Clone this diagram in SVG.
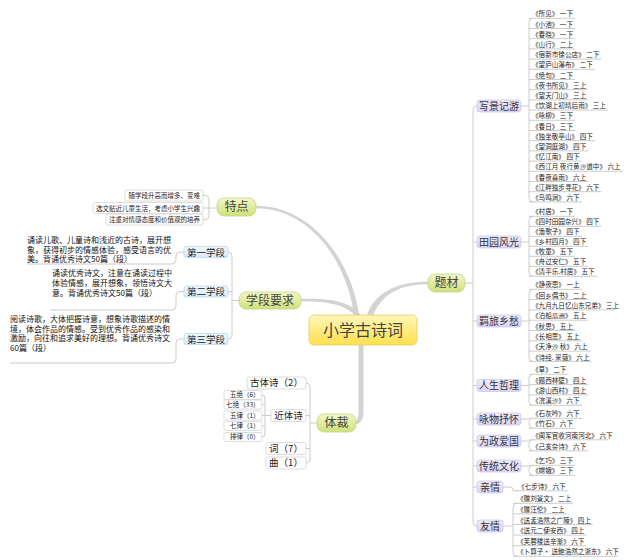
<svg xmlns="http://www.w3.org/2000/svg" width="626" height="560" viewBox="0 0 626 560">
<style>
text{font-family:"Noto Sans CJK SC","Noto Sans",sans-serif}
.leaf{font-size:6.6px;fill:#222}
.para{font-size:8px;fill:#111}
.sub{font-size:10px;fill:#333;text-anchor:middle}
.main{font-size:12px;fill:#444;text-anchor:middle}
.small{font-size:6.5px;fill:#222}
.c{stroke:#c6c6c6;stroke-width:0.9;fill:none}
.trunk{fill:#d3d3d3}
.bp{fill:url(#gP);stroke:#cdc5ec;stroke-width:0.8}
.bb{fill:url(#gB);stroke:#b9d9f0;stroke-width:0.8}
.bg{fill:url(#gG);stroke:#c3d585;stroke-width:0.8}
.bw{fill:#fff;stroke:#d4d4d4;stroke-width:0.8}
</style>
<defs>
<linearGradient id="gY" x1="0" y1="0" x2="0" y2="1"><stop offset="0" stop-color="#fff7b8"/><stop offset="1" stop-color="#ffe04c"/></linearGradient>
<linearGradient id="gG" x1="0" y1="0" x2="0" y2="1"><stop offset="0" stop-color="#f2f8c6"/><stop offset="1" stop-color="#cfe07a"/></linearGradient>
<linearGradient id="gP" x1="0" y1="0" x2="0" y2="1"><stop offset="0" stop-color="#f0ecfc"/><stop offset="1" stop-color="#dcd4f4"/></linearGradient>
<linearGradient id="gB" x1="0" y1="0" x2="0" y2="1"><stop offset="0" stop-color="#f0f8fe"/><stop offset="1" stop-color="#d6ebfa"/></linearGradient>
</defs>
<rect width="626" height="560" fill="#fff"/>

<g id="connectors">
<path class="trunk" d="M359.5,318 C352.5,260 311,205.8 256,205.8 L256,208.2 C309,208.2 347.5,260 354.5,318 Z"/>
<path class="trunk" d="M301,298.8 C331,297.8 352,301 363,318 L357,318 C348,305 329,301.2 301,301.2 Z"/>
<path class="trunk" d="M366,318 C374,291 399,281.8 428,281.8 L428,284.2 C401,284.2 381,293 372,318 Z"/>
<path class="trunk" d="M358.5,343 V412 Q358.5,421.8 354,421.8 L354,424.2 Q363.5,424.2 363.5,412 V343 Z"/>
<path class="c" d="M477,106 Q473,106 473,110 V522 Q473,526 477,526 M465,283 H473 M473,242 H477 M473,321 H477 M473,385.5 H477 M473,419 H477 M473,441 H477 M473,466 H477 M473,487 H477"/>
<path class="c" d="M521,106 H529 M533,18.3 Q529,18.3 529,22.3 V197.9 Q529,201.9 533,201.9 M529,18.3 H575 M529,28.5 H575 M529,38.7 H575 M529,48.9 H575 M529,59.1 H601.5 M529,69.3 H595 M529,79.5 H575 M529,89.7 H588 M529,99.9 H588 M529,110.1 H608 M529,120.3 H575 M529,130.5 H575 M529,140.7 H595 M529,150.9 H588 M529,161.1 H582 M529,171.3 H623 M529,181.5 H588 M529,191.7 H601.5 M529,201.9 H582"/>
<path class="c" d="M521,242 H529 M533,216.3 Q529,216.3 529,220.3 V272.3 Q529,276.3 533,276.3 M529,216.3 H575 M529,226.3 H601.5 M529,236.3 H582 M529,246.3 H588 M529,256.3 H575 M529,266.3 H588 M529,276.3 H597"/>
<path class="c" d="M521,321 H529 M533,289.3 Q529,289.3 529,293.3 V357.4 Q529,361.4 533,361.4 M529,289.3 H582 M529,299.6 H588 M529,309.9 H615 M529,320.2 H588 M529,330.5 H575 M529,340.8 H582 M529,351.1 H591 M529,361.4 H592"/>
<path class="c" d="M521,385.5 H529 M533,374.3 Q529,374.3 529,378.3 V401.3 Q529,405.3 533,405.3 M529,374.3 H568.5 M529,384.6 H588 M529,394.9 H588 M529,405.3 H582"/>
<path class="c" d="M521,419 H529 M533,418.3 Q529,418.3 529,422.3 V424.3 Q529,428.3 533,428.3 M529,418.3 H582 M529,428.3 H575"/>
<path class="c" d="M521,441 H529 M533,439.8 Q529,439.8 529,443.8 V446.8 Q529,450.8 533,450.8 M529,439.8 H608 M529,450.8 H588"/>
<path class="c" d="M521,466 H529 M533,465.3 Q529,465.3 529,469.3 V471.3 Q529,475.3 533,475.3 M529,465.3 H575 M529,475.3 H575"/>
<path class="c" d="M503,487 H510 Q513,487 513,490.8 H568"/>
<path class="c" d="M503,526 H513 M517,503.3 Q513,503.3 513,507.3 V552.3 Q513,556.3 517,556.3 M513,503.3 H573 M513,513.9 H567 M513,524.5 H593 M513,535.1 H586.5 M513,545.7 H586.5 M513,556.3 H618"/>
<path class="c" d="M203,195.5 H205 Q209,195.5 209,199.5 V215.5 Q209,219.5 205,219.5 H203 M203,208 H217"/>
<path class="c" d="M228,252 Q232,252 232,256 V335 Q232,339 228,339 M228,291.5 H232 M232,300.5 H239"/>
<path class="c" d="M184,252 H180 Q176,252 176,256 V260 Q176,264 172,264 H27 M184,291.5 H180 Q176,291.5 176,295.5 V306 Q176,310 172,310 H50 M184,339 H180 Q176,339 176,343 V359 Q176,363 172,363 H10"/>
<path class="c" d="M306,383 Q310,383 310,387 V459 Q310,463 306,463 M306,415.5 H310 M306,448.5 H310 M310,423 H317"/>
<path class="c" d="M262,395 Q265,395 265,398 V434 Q265,437 262,437 M262,404.5 H265 M262,415.5 H265 M262,426 H265 M265,415.5 H271"/>
</g>

<g id="n-root">
<rect x="309" y="315" width="108" height="30" rx="5" fill="url(#gY)" stroke="#e6cc6a" stroke-width="0.8"/>
<text x="363" y="336" font-size="16" fill="#444" text-anchor="middle">小学古诗词</text>
</g>

<g id="n-tedian">
<rect class="bg" x="217" y="198" width="39" height="18" rx="7"/>
<text class="main" x="236.5" y="211.2">特点</text>
</g>
<g id="n-xueduan">
<rect class="bg" x="239" y="292" width="62" height="17" rx="7"/>
<text class="main" x="270" y="304.7">学段要求</text>
</g>
<g id="n-ticai">
<rect class="bg" x="428" y="274" width="37" height="18" rx="7"/>
<text class="main" x="446.5" y="287.2">题材</text>
</g>
<g id="n-ticai2">
<rect class="bg" x="317" y="414" width="39" height="18" rx="7"/>
<text class="main" x="336.5" y="427.2">体裁</text>
</g>

<g id="n-tedian-items">
<rect class="bw" x="125" y="190" width="78" height="11" rx="2"/>
<text class="small" x="200" y="198" text-anchor="end">随学段升高而增多、变难</text>
<rect class="bw" x="93" y="202.5" width="110" height="11" rx="2"/>
<text class="small" x="200" y="210.5" text-anchor="end">选文贴近儿童生活，考虑小学生兴趣</text>
<rect class="bw" x="106" y="214" width="97" height="11" rx="2"/>
<text class="small" x="200" y="222" text-anchor="end">注重对情感态度和价值观的培养</text>
</g>

<g id="n-stage1">
<rect class="bb" x="184" y="246.5" width="44" height="11" rx="2"/>
<text x="206" y="255.5" font-size="9.5" fill="#222" text-anchor="middle">第一学段</text>
</g>
<g id="n-stage2">
<rect class="bb" x="184" y="286" width="44" height="11" rx="2"/>
<text x="206" y="295" font-size="9.5" fill="#222" text-anchor="middle">第二学段</text>
</g>
<g id="n-stage3">
<rect class="bb" x="184" y="333.5" width="44" height="11" rx="2"/>
<text x="206" y="342.5" font-size="9.5" fill="#222" text-anchor="middle">第三学段</text>
</g>

<g id="n-para1">
<text class="para"><tspan x="27" y="243">诵读儿歌、儿童诗和浅近的古诗，展开想</tspan><tspan x="27" y="252.5">象，获得初步的情感体验，感受语言的优</tspan><tspan x="27" y="262">美。背诵优秀诗文50篇（段）</tspan></text>
</g>
<g id="n-para2">
<text class="para"><tspan x="52" y="276">诵读优秀诗文，注意在诵读过程中</tspan><tspan x="52" y="286">体验情感，展开想象，领悟诗文大</tspan><tspan x="52" y="296">意。背诵优秀诗文50篇（段）</tspan></text>
</g>
<g id="n-para3">
<text class="para"><tspan x="10" y="322">阅读诗歌，大体把握诗意，想象诗歌描述的情</tspan><tspan x="10" y="331.5">境，体会作品的情感。受到优秀作品的感染和</tspan><tspan x="10" y="341">激励，向往和追求美好的理想。背诵优秀诗文</tspan><tspan x="10" y="350.5">60篇（段）</tspan></text>
</g>

<g id="n-guti">
<rect class="bw" x="247" y="377" width="59" height="12" rx="2"/>
<text x="276.5" y="386.4" font-size="9.5" fill="#222" text-anchor="middle">古体诗（2）</text>
</g>
<g id="n-jinti">
<rect class="bw" x="271" y="409.5" width="35" height="12" rx="2"/>
<text x="288.5" y="418.9" font-size="9.5" fill="#222" text-anchor="middle">近体诗</text>
</g>
<g id="n-ci">
<rect class="bw" x="266" y="442.5" width="40" height="12" rx="2"/>
<text x="286" y="451.9" font-size="9.5" fill="#222" text-anchor="middle">词（7）</text>
</g>
<g id="n-qu">
<rect class="bw" x="266" y="457" width="40" height="12" rx="2"/>
<text x="286" y="466.4" font-size="9.5" fill="#222" text-anchor="middle">曲（1）</text>
</g>
<g id="n-jinti-items">
<rect class="bw" x="224" y="390.5" width="38" height="9" rx="1.5"/>
<text class="small" x="259.5" y="397.3" text-anchor="end">五绝（6）</text>
<rect class="bw" x="224" y="400" width="38" height="9" rx="1.5"/>
<text class="small" x="259.5" y="406.8" text-anchor="end">七绝（33）</text>
<rect class="bw" x="224" y="411" width="38" height="9" rx="1.5"/>
<text class="small" x="259.5" y="417.8" text-anchor="end">五律（1）</text>
<rect class="bw" x="224" y="421.5" width="38" height="9" rx="1.5"/>
<text class="small" x="259.5" y="428.3" text-anchor="end">七律（1）</text>
<rect class="bw" x="224" y="432.5" width="38" height="9" rx="1.5"/>
<text class="small" x="259.5" y="439.3" text-anchor="end">排律（0）</text>
</g>

<g id="n-xiejing">
<rect class="bp" x="477" y="100" width="44" height="12" rx="3"/>
<text class="sub" x="499" y="109.5">写景记游</text>
</g>
<g id="n-tianyuan">
<rect class="bp" x="477" y="236" width="44" height="12" rx="3"/>
<text class="sub" x="499" y="245.5">田园风光</text>
</g>
<g id="n-jilv">
<rect class="bp" x="477" y="315" width="44" height="12" rx="3"/>
<text class="sub" x="499" y="324.5">羁旅乡愁</text>
</g>
<g id="n-rensheng">
<rect class="bp" x="477" y="379.5" width="44" height="12" rx="3"/>
<text class="sub" x="499" y="389">人生哲理</text>
</g>
<g id="n-yongwu">
<rect class="bp" x="477" y="413" width="44" height="12" rx="3"/>
<text class="sub" x="499" y="422.5">咏物抒怀</text>
</g>
<g id="n-weizheng">
<rect class="bp" x="477" y="435" width="44" height="12" rx="3"/>
<text class="sub" x="499" y="444.5">为政爱国</text>
</g>
<g id="n-chuantong">
<rect class="bp" x="477" y="460" width="44" height="12" rx="3"/>
<text class="sub" x="499" y="469.5">传统文化</text>
</g>
<g id="n-qinqing">
<rect class="bp" x="477" y="481" width="26" height="12" rx="3"/>
<text class="sub" x="490" y="490.5">亲情</text>
</g>
<g id="n-youqing">
<rect class="bp" x="477" y="520" width="26" height="12" rx="3"/>
<text class="sub" x="490" y="529.5">友情</text>
</g>

<g id="leaves-xiejing" class="leaf">
<text x="532" y="16.4">《所见》 一下</text>
<text x="532" y="26.6">《小池》 一下</text>
<text x="532" y="36.8">《春晓》 一下</text>
<text x="532" y="47">《山行》 二上</text>
<text x="532" y="57.2">《宿新市徐公店》 二下</text>
<text x="532" y="67.4">《望庐山瀑布》 二下</text>
<text x="532" y="77.6">《绝句》 二下</text>
<text x="532" y="87.8">《夜书所见》 三上</text>
<text x="532" y="98">《望天门山》 三上</text>
<text x="532" y="108.2">《饮湖上初晴后雨》 三上</text>
<text x="532" y="118.4">《咏柳》 三下</text>
<text x="532" y="128.6">《春日》 三下</text>
<text x="532" y="138.8">《独坐敬亭山》 四下</text>
<text x="532" y="149">《望洞庭湖》 四下</text>
<text x="532" y="159.2">《忆江南》 四下</text>
<text x="532" y="169.4">《西江月 夜行黄沙道中》 六上</text>
<text x="532" y="179.6">《春夜喜雨》 六上</text>
<text x="532" y="189.8">《江畔独步寻花》 六下</text>
<text x="532" y="200">《鸟鸣涧》 六下</text>
</g>
<g id="leaves-tianyuan" class="leaf">
<text x="532" y="214.4">《村居》 一下</text>
<text x="532" y="224.4">《四时田园杂兴》 四下</text>
<text x="532" y="234.4">《渔歌子》 四下</text>
<text x="532" y="244.4">《乡村四月》 四下</text>
<text x="532" y="254.4">《牧童》 五下</text>
<text x="532" y="264.4">《舟过安仁》 五下</text>
<text x="532" y="274.4">《清平乐.村居》 五下</text>
</g>
<g id="leaves-jilv" class="leaf">
<text x="532" y="287.4">《静夜思》 一上</text>
<text x="532" y="297.7">《回乡偶书》 二上</text>
<text x="532" y="308">《九月九日忆山东兄弟》 三上</text>
<text x="532" y="318.3">《泊船瓜洲》 五上</text>
<text x="532" y="328.6">《秋思》 五上</text>
<text x="532" y="338.9">《长相思》 五上</text>
<text x="532" y="349.2">《天净沙 秋》 六上</text>
<text x="532" y="359.5">《诗经. 采薇》 六上</text>
</g>
<g id="leaves-rensheng" class="leaf">
<text x="532" y="372.4">《草》 二下</text>
<text x="532" y="382.7">《题西林壁》 四上</text>
<text x="532" y="393">《游山西村》 四上</text>
<text x="532" y="403.4">《浣溪沙》 六下</text>
</g>
<g id="leaves-yongwu" class="leaf">
<text x="532" y="416.4">《石灰吟》 六下</text>
<text x="532" y="426.4">《竹石》 六下</text>
</g>
<g id="leaves-weizheng" class="leaf">
<text x="532" y="437.9">《闻军官收河南河北》 六下</text>
<text x="532" y="448.9">《己亥杂诗》 六下</text>
</g>
<g id="leaves-chuantong" class="leaf">
<text x="532" y="463.4">《乞巧》 三下</text>
<text x="532" y="473.4">《嫦娥》 三下</text>
</g>
<g id="leaves-qinqing" class="leaf">
<text x="518" y="488.9">《七步诗》 六下</text>
</g>
<g id="leaves-youqing" class="leaf">
<text x="517" y="501.4">《赠刘景文》 二上</text>
<text x="517" y="512">《赠汪伦》 二上</text>
<text x="517" y="522.6">《送孟浩然之广陵》 四上</text>
<text x="517" y="533.2">《送元二使安西》 四上</text>
<text x="517" y="543.8">《芙蓉楼送辛渐》 六下</text>
<text x="517" y="554.4">《卜算子· 送鲍浩然之浙东》 六下</text>
</g>
</svg>
